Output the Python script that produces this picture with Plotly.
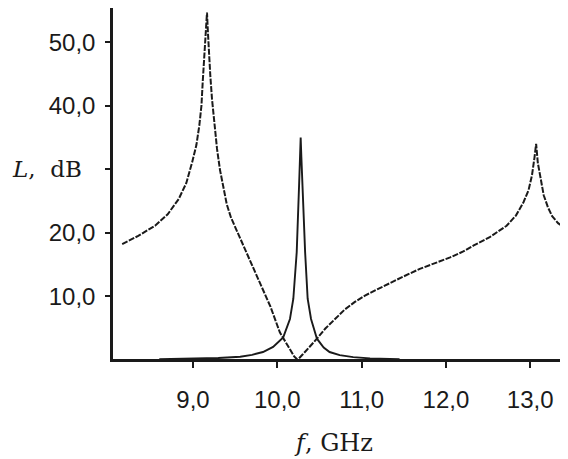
import plotly.graph_objects as go

# Dashed curve (f in GHz, L in dB)
dash_f = [8.16, 8.35, 8.55, 8.70, 8.83, 8.92, 8.99, 9.04, 9.075, 9.10, 9.115, 9.135, 9.146, 9.158, 9.166,
          9.176, 9.186, 9.205, 9.225, 9.255, 9.285, 9.32, 9.364, 9.40, 9.45, 9.50, 9.56, 9.68, 9.795, 9.92, 10.03,
          10.09, 10.15, 10.20, 10.235, 10.25, 10.30, 10.35, 10.47, 10.57, 10.68, 10.80, 10.92, 11.04, 11.16,
          11.32, 11.48, 11.69, 11.87, 12.05, 12.20, 12.33, 12.52, 12.72, 12.83, 12.92, 12.98, 13.02, 13.05,
          13.07, 13.09, 13.12, 13.16, 13.21, 13.26, 13.33, 13.43, 13.46]
dash_L = [18.2, 19.5, 21.1, 22.9, 25.3, 27.8, 31.1, 33.8, 36.9, 40.0, 43.7, 47.5, 50.5, 53.0, 54.7,
          51.8, 48.9, 44.8, 41.1, 37.0, 33.2, 29.9, 26.9, 24.5, 22.4, 20.9, 19.2, 15.6, 12.2, 8.3, 4.3,
          3.0, 1.6, 0.5, 0.05, 0.1, 0.8, 1.5, 3.3, 4.9, 6.4, 7.9, 9.1, 10.1, 10.9,
          12.0, 13.0, 14.3, 15.2, 16.1, 17.0, 18.0, 19.3, 21.1, 22.7, 24.8, 26.7, 29.0, 31.8,
          34.0, 31.0, 28.5, 25.9, 24.0, 22.6, 21.5, 20.6, 20.3]

# Solid curve
solid_f = [8.60, 9.00, 9.30, 9.56, 9.70, 9.83, 9.95, 10.07, 10.15, 10.19, 10.23, 10.258, 10.27, 10.277,
           10.285, 10.30, 10.31, 10.33, 10.36, 10.40, 10.47, 10.55, 10.62, 10.68, 10.74, 10.90, 11.10, 11.45]
solid_L = [0.05, 0.15, 0.25, 0.45, 0.75, 1.2, 2.0, 3.5, 6.4, 9.6, 16.9, 27.4, 32.0, 35.0,
           32.0, 27.4, 22.2, 16.9, 9.6, 6.4, 3.3, 1.9, 1.2, 0.9, 0.7, 0.4, 0.2, 0.05]

x_tickvals = [9, 10, 11, 12, 13]
x_ticktext = ["9,0", "10,0", "11,0", "12,0", "13,0"]
y_tickvals = [10, 20, 30, 40, 50]
y_ticktext = ["10,0", "20,0", "", "40,0", "50,0"]

INK = "#1a1a1a"

fig = go.Figure()
fig.add_trace(go.Scatter(x=dash_f, y=dash_L, mode="lines",
                         line=dict(color=INK, width=2.0, dash="6px,1.5px"),
                         showlegend=False, hoverinfo="skip"))
fig.add_trace(go.Scatter(x=solid_f, y=solid_L, mode="lines",
                         line=dict(color=INK, width=1.9),
                         showlegend=False, hoverinfo="skip"))

tick_font = dict(family="Liberation Sans, Arial, sans-serif", size=24, color=INK)
serif = "DejaVu Serif, serif"

fig.update_layout(
    width=560, height=451,
    margin=dict(l=105, r=0, t=0, b=100),
    paper_bgcolor="white", plot_bgcolor="white",
    xaxis=dict(range=[8.051, 13.448], tickvals=x_tickvals, ticktext=x_ticktext,
               showline=True, linewidth=2.5, linecolor=INK, showgrid=False, zeroline=False,
               ticks="outside", ticklen=6, tickwidth=2, tickcolor=INK,
               tickfont=tick_font, ticklabelstandoff=11),
    yaxis=dict(range=[0.1, 55.4], tickvals=y_tickvals, ticktext=y_ticktext,
               showline=True, linewidth=2.5, linecolor=INK, showgrid=False, zeroline=False,
               ticks="outside", ticklen=5, tickwidth=2, tickcolor=INK,
               tickfont=tick_font, ticklabelstandoff=5),
    annotations=[
        dict(text="<i>L</i>,  dB", xref="paper", yref="y", x=-0.064, y=30,
             xanchor="right", yanchor="middle", showarrow=False,
             font=dict(family=serif, size=23, color=INK)),
        dict(text="<i>f</i>, GHz", xref="paper", yref="paper", x=0.484, y=-0.285,
             xanchor="center", yanchor="bottom", showarrow=False,
             font=dict(family=serif, size=24, color=INK)),
    ],
)

fig.write_html("out.html")
